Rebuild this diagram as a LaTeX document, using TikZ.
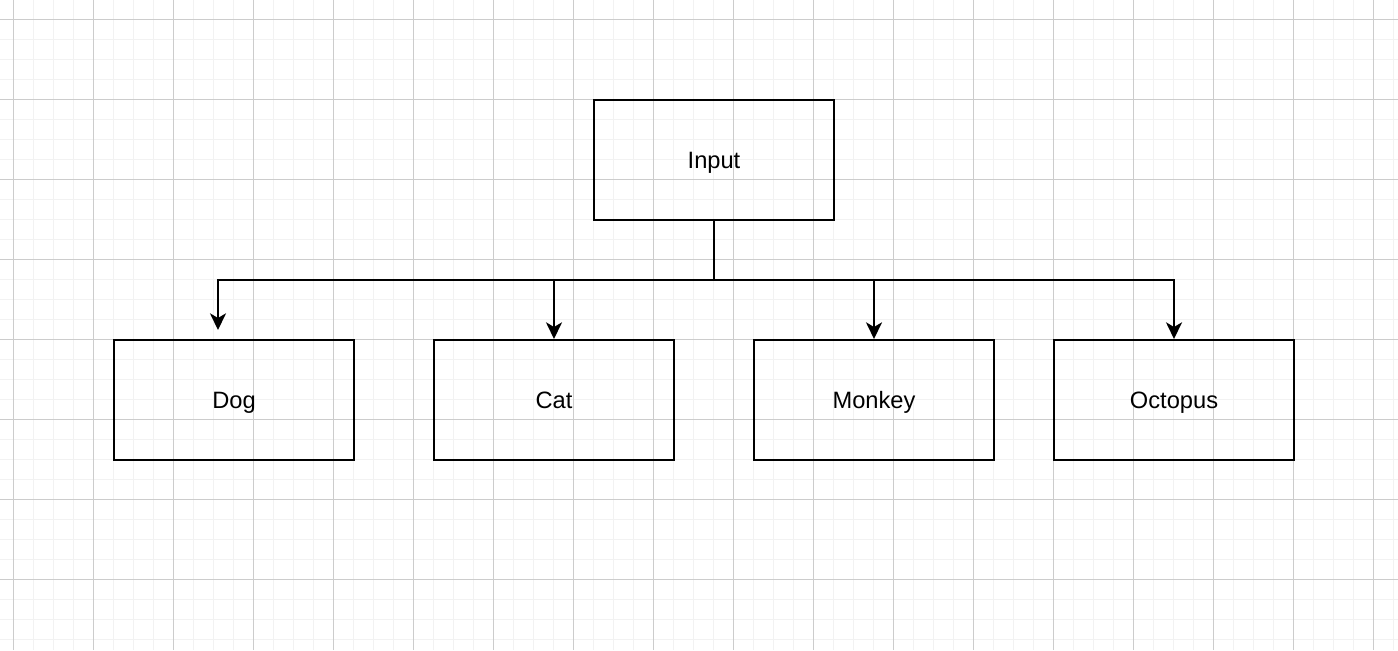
\documentclass[tikz,border=0pt]{standalone}
\usepackage{fontspec}
\setmainfont{Liberation Sans}
\usetikzlibrary{arrows.meta}

\tikzset{
  box/.style={draw,rectangle,minimum width=180pt,minimum height=90pt,inner sep=0pt,
    text height=12.7pt,text depth=0pt,font=\fontsize{17.75}{21}\selectfont},
  minorline/.style={line width=0.75pt,color=black!5},
  majorline/.style={line width=0.75pt,color=black!20}
}

\begin{document}
\begin{tikzpicture}[x=0.75pt,y=-0.75pt,line width=1.5pt,>={Stealth[length=12.5pt,width=12pt,inset=3.5pt]}]
        \useasboundingbox (0,0) rectangle (1398,650);
        \fill[white] (0,0) rectangle (1398,650);

        % grid
        \foreach \gx in {13,33,...,1393} \draw[minorline] (\gx,0) -- (\gx,650);
        \foreach \gy in {19,39,...,639} \draw[minorline] (0,\gy) -- (1398,\gy);
        \foreach \gx in {13,93,...,1373} \draw[majorline] (\gx,0) -- (\gx,650);
        \foreach \gy in {19,99,...,579} \draw[majorline] (0,\gy) -- (1398,\gy);

        \node[box] (In) at (714,160) {Input};

        \node[box] (Dog) at (234,400) {Dog};
        \node[box] (Cat) at (554,400) {Cat};
        \node[box] (Monkey) at (874,400) {Monkey};
        \node[box] (Octopus) at (1174,400) {Octopus};

        \coordinate (J) at (714,280);
        \coordinate (DogIn) at (218,330);

        \draw (In) -- (J);
        \draw[->] (J) -| (DogIn);
        \draw[->] (J) -| (Cat.north);
        \draw[->] (J) -| (Monkey.north);
        \draw[->] (J) -| (Octopus.north);

    \end{tikzpicture}
\end{document}
